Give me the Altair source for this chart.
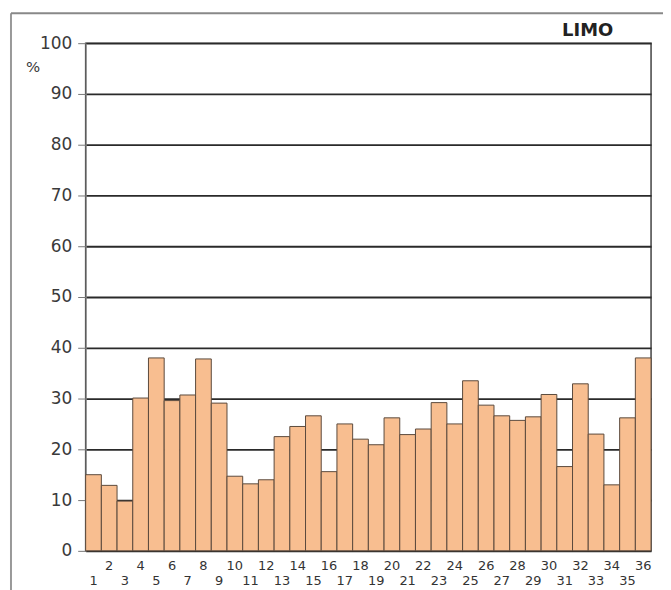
import altair as alt
import pandas as pd

samples = list(range(1, 37))
limo = [15.0, 12.9, 9.8, 30.1, 38.0, 29.6, 30.7, 37.8, 29.1, 14.7,
        13.2, 14.0, 22.5, 24.5, 26.6, 15.6, 25.0, 22.0, 20.9, 26.2,
        22.9, 24.0, 29.2, 25.0, 33.5, 28.7, 26.6, 25.7, 26.4, 30.8,
        16.6, 32.9, 23.0, 13.0, 26.2, 38.0]
y_ticks = list(range(0, 101, 10))

df = pd.DataFrame({"sample": samples, "limo": limo})

W, H = 568, 510
FONT = "DejaVu Sans"

bars = alt.Chart(df).mark_bar(
    color="#F8BE90", stroke="#5b4a3c", strokeWidth=1
).encode(
    x=alt.X("sample:O", title=None,
            scale=alt.Scale(paddingInner=0, paddingOuter=0),
            axis=alt.Axis(labelAngle=0, ticks=False, domain=False,
                          labelFont=FONT, labelFontSize=13, labelColor="#333",
                          labelOverlap=False, labelFlush=False,
                          labelPadding={"condition": {"test": "datum.value % 2 == 0", "value": 9},
                                        "value": 24})),
    y=alt.Y("limo:Q", title=None,
            scale=alt.Scale(domain=[0, 100], nice=False),
            axis=alt.Axis(values=y_ticks, grid=True, gridColor="#2a2a2a", gridWidth=1.8,
                          tickColor="#777", tickSize=8, domainColor="#888",
                          labelFont=FONT, labelFontSize=17, labelColor="#3a3a3a",
                          labelPadding=6)),
)

title_txt = alt.Chart(pd.DataFrame({"t": ["LIMO"]})).mark_text(
    font=FONT, fontSize=18, fontWeight="bold", align="right", baseline="alphabetic",
    color="#222"
).encode(x=alt.value(530), y=alt.value(-7), text="t:N")

pct_txt = alt.Chart(pd.DataFrame({"t": ["%"]})).mark_text(
    font=FONT, fontSize=15, align="left", baseline="middle", color="#3a3a3a"
).encode(x=alt.value(-60), y=alt.value(24), text="t:N")

frame_left = alt.Chart(pd.DataFrame({"a": [0]})).mark_rule(
    color="#999", strokeWidth=2
).encode(x=alt.value(-75), y=alt.value(-30), y2=alt.value(H + 60))

frame_top = alt.Chart(pd.DataFrame({"a": [0]})).mark_rule(
    color="#888", strokeWidth=2
).encode(x=alt.value(-75), x2=alt.value(W + 20), y=alt.value(-30))

chart = alt.layer(frame_left, frame_top, bars, title_txt, pct_txt).properties(
    width=W, height=H,
    autosize=alt.AutoSizeParams(type="none"),
    padding={"left": 78, "top": 34, "right": 12, "bottom": 40},
).configure_view(stroke="#444", strokeWidth=1.5).configure_axis(gridOpacity=1)

chart.save("out.html", embed_options={"renderer": "svg", "actions": False})
